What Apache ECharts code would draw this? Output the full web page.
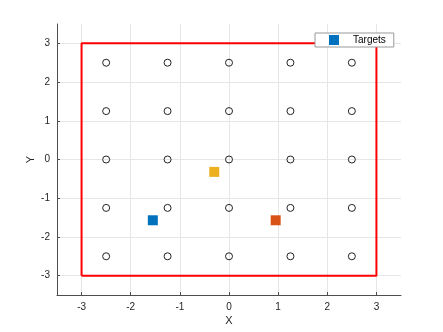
<!DOCTYPE html>
<html>
<head>
<meta charset="utf-8">
<script src="https://cdn.jsdelivr.net/npm/echarts@6/dist/echarts.min.js"></script>
<style>
  html, body { margin: 0; padding: 0; background: #fff; }
  #chart { width: 443px; height: 332px; }
</style>
</head>
<body>
<div id="chart"></div>
<script>
// grid of sensor positions (open circles)
var gridX = [-2.5, -1.25, 0, 1.25, 2.5];
var gridY = [-2.5, -1.25, 0, 1.25, 2.5];
// boundary rectangle corners
var boundaryX = [-3, 3, 3, -3, -3];
var boundaryY = [-3, -3, 3, 3, -3];
// targets
var targetX = [-1.55, -0.3, 0.95];
var targetY = [-1.57, -0.32, -1.57];
var targetColors = ["#0072BD", "#EDB120", "#D95319"];
var ticks = [-3, -2, -1, 0, 1, 2, 3];

var chart = echarts.init(document.getElementById("chart"));

var gridPoints = [];
gridX.forEach(function (x) {
  gridY.forEach(function (y) {
    gridPoints.push([x, y]);
  });
});
var boundary = boundaryX.map(function (x, i) { return [x, boundaryY[i]]; });
var targets = targetX.map(function (x, i) {
  return { value: [x, targetY[i]], itemStyle: { color: targetColors[i], opacity: 1 } };
});

var axisCommon = {
  type: "value",
  min: -3.5,
  max: 3.5,
  nameLocation: "middle",
  nameMoveOverlap: false,
  nameTextStyle: { color: "#262626", fontSize: 11, fontFamily: "Liberation Sans" },
  axisLine: { show: true, onZero: false, lineStyle: { color: "#4d4d4d", width: 1 } },
  axisTick: { show: true, inside: true, length: 3, lineStyle: { color: "#4d4d4d" },
    customValues: ticks },
  axisLabel: { color: "#262626", fontSize: 10, fontFamily: "Liberation Sans",
    customValues: ticks, formatter: function (v) { return String(v); } },
  splitLine: { show: true, lineStyle: { color: "#e6e6e6", width: 1 } }
};

var option = {
  animation: false,
  grid: { left: 57, right: 42, top: 24, bottom: 37, containLabel: false },
  xAxis: Object.assign({}, axisCommon, { name: "X", nameGap: 20,
    axisLabel: Object.assign({}, axisCommon.axisLabel, { margin: 7 }) }),
  yAxis: Object.assign({}, axisCommon, { name: "Y", nameGap: 21, nameRotate: 90,
    axisLabel: Object.assign({}, axisCommon.axisLabel, { margin: 7 }) }),
  legend: {
    data: ["Targets"],
    left: 315,
    top: 33,
    padding: [2, 8, 2, 14],
    backgroundColor: "#fff",
    borderColor: "#999",
    borderWidth: 1,
    borderRadius: 0,
    icon: "rect",
    itemWidth: 10,
    itemHeight: 10,
    itemStyle: { opacity: 1 },
    textStyle: { color: "#000", fontSize: 10, fontFamily: "Liberation Sans", padding: [0, 0, 0, 9] }
  },
  series: [
    {
      name: "Boundary",
      type: "line",
      data: boundary,
      symbol: "none",
      lineStyle: { color: "#ff0000", width: 2 },
      silent: true
    },
    {
      name: "Grid",
      type: "scatter",
      data: gridPoints,
      symbol: "circle",
      symbolSize: 7,
      itemStyle: { color: "transparent", borderColor: "#222", borderWidth: 1, opacity: 1 }
    },
    {
      name: "Targets",
      type: "scatter",
      data: targets,
      symbol: "rect",
      symbolSize: 10,
      itemStyle: { color: "#0072BD", opacity: 1 }
    }
  ]
};
chart.setOption(option);
window.addEventListener("resize", function () { chart.resize(); });
</script>
</body>
</html>
